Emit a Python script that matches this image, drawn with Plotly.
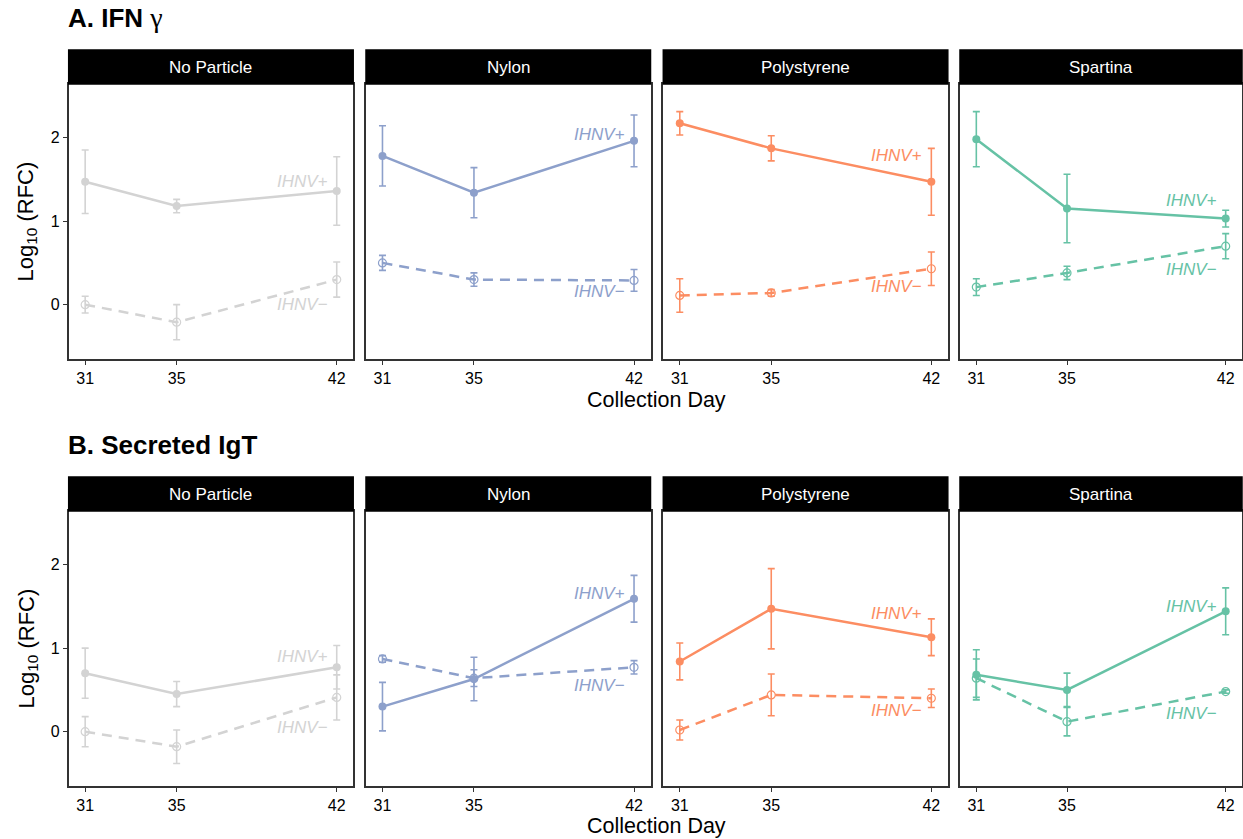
import plotly.graph_objects as go

# ---------------- data ----------------
days = [31, 35, 42]
particles = ["No Particle", "Nylon", "Polystyrene", "Spartina"]
colors = ["#d3d3d3", "#8da0cb", "#fc8d62", "#66c2a5"]

# IFN gamma
ifn_pos_mean = [[1.47, 1.18, 1.36], [1.78, 1.34, 1.96], [2.17, 1.87, 1.47], [1.98, 1.15, 1.03]]
ifn_pos_err = [[0.38, 0.08, 0.41], [0.36, 0.30, 0.31], [0.14, 0.15, 0.40], [0.33, 0.41, 0.10]]
ifn_neg_mean = [[0.00, -0.21, 0.30], [0.50, 0.30, 0.29], [0.11, 0.14, 0.43], [0.21, 0.38, 0.70]]
ifn_neg_err = [[0.10, 0.21, 0.21], [0.09, 0.08, 0.13], [0.20, 0.04, 0.20], [0.10, 0.08, 0.15]]

# Secreted IgT
igt_pos_mean = [[0.70, 0.45, 0.77], [0.30, 0.63, 1.59], [0.84, 1.47, 1.13], [0.68, 0.50, 1.44]]
igt_pos_err = [[0.30, 0.15, 0.26], [0.29, 0.26, 0.28], [0.22, 0.48, 0.22], [0.30, 0.20, 0.28]]
igt_neg_mean = [[0.00, -0.18, 0.41], [0.87, 0.64, 0.77], [0.02, 0.44, 0.40], [0.64, 0.12, 0.48]]
igt_neg_err = [[0.18, 0.20, 0.27], [0.04, 0.10, 0.08], [0.12, 0.25, 0.11], [0.23, 0.17, 0.02]]

# label positions (y values) for the in-panel series labels
ifn_pos_label_y = [1.47, 2.04, 1.79, 1.25]
ifn_neg_label_y = [0.00, 0.16, 0.22, 0.42]
igt_pos_label_y = [0.90, 1.65, 1.41, 1.50]
igt_neg_label_y = [0.05, 0.55, 0.25, 0.22]
label_x = 41.7

y_ticks = [0, 1, 2]

# ---------------- layout geometry ----------------
W, H = 1243, 839
panel_left = [68.7, 366.0, 663.3, 960.0]
panel_w = 284.5
rows = [dict(top=84, bottom=359, strip_top=50, title_y=18, xlab_y=400),
        dict(top=511, bottom=786, strip_top=477, title_y=445, xlab_y=826)]

def px(xp):
    return xp / W

def py(yp):
    return 1 - yp / H

FONT = "Liberation Sans, Arial, sans-serif"
AXC = "#333333"

fig = go.Figure()
layout = dict(width=W, height=H, margin=dict(l=0, r=0, t=0, b=0),
              paper_bgcolor="white", plot_bgcolor="white", showlegend=False,
              font=dict(family=FONT, color="black"))
shapes, annotations = [], []

data = [
    (ifn_pos_mean, ifn_pos_err, ifn_neg_mean, ifn_neg_err, ifn_pos_label_y, ifn_neg_label_y),
    (igt_pos_mean, igt_pos_err, igt_neg_mean, igt_neg_err, igt_pos_label_y, igt_neg_label_y),
]

k = 0
for r, row in enumerate(rows):
    pm, pe, nm, ne, ply, nly = data[r]
    for c in range(4):
        k += 1
        xa = "x" if k == 1 else f"x{k}"
        ya = "y" if k == 1 else f"y{k}"
        xkey = "xaxis" if k == 1 else f"xaxis{k}"
        ykey = "yaxis" if k == 1 else f"yaxis{k}"
        x0 = px(panel_left[c])
        x1 = min(px(panel_left[c] + panel_w), 0.9992)
        layout[xkey] = dict(domain=[x0, x1], anchor=ya, range=[30.28, 42.72],
                            tickmode="array", tickvals=days, ticktext=[str(d) for d in days],
                            ticks="outside", ticklen=4, tickwidth=1, tickcolor=AXC,
                            showline=True, linecolor=AXC, linewidth=1.5, mirror=True,
                            showgrid=False, zeroline=False,
                            tickfont=dict(size=16, color="black", family=FONT))
        layout[ykey] = dict(domain=[py(row["bottom"]), py(row["top"])], anchor=xa,
                            range=[-0.65, 2.64], tickmode="array", tickvals=y_ticks,
                            ticktext=[str(t) for t in y_ticks],
                            ticks="outside" if c == 0 else "", ticklen=4, tickwidth=1,
                            tickcolor=AXC, showticklabels=(c == 0),
                            showline=True, linecolor=AXC, linewidth=1.5, mirror=True,
                            showgrid=False, zeroline=False,
                            tickfont=dict(size=16, color="black", family=FONT))
        col = colors[c]
        # IHNV- (dashed, open)
        fig.add_trace(go.Scatter(
            x=days, y=nm[c], xaxis=xa, yaxis=ya, mode="lines+markers",
            line=dict(color=col, width=2.5, dash="10px,7px"),
            marker=dict(symbol="circle-open", size=8, color=col, line=dict(width=1.2, color=col)),
            error_y=dict(type="data", array=ne[c], visible=True, color=col, thickness=1.6, width=3.5),
            hoverinfo="skip"))
        # IHNV+ (solid, filled)
        fig.add_trace(go.Scatter(
            x=days, y=pm[c], xaxis=xa, yaxis=ya, mode="lines+markers",
            line=dict(color=col, width=2.5),
            marker=dict(symbol="circle", size=8, color=col),
            error_y=dict(type="data", array=pe[c], visible=True, color=col, thickness=1.6, width=3.5),
            hoverinfo="skip"))
        # series labels
        annotations.append(dict(x=label_x, y=ply[c], xref=xa, yref=ya, text="<i>IHNV+</i>",
                                showarrow=False, xanchor="right", yanchor="middle",
                                font=dict(size=17, color=col, family=FONT)))
        annotations.append(dict(x=label_x, y=nly[c], xref=xa, yref=ya, text="<i>IHNV\u2212</i>",
                                showarrow=False, xanchor="right", yanchor="middle",
                                font=dict(size=17, color=col, family=FONT)))
        # strip
        sx0 = x0
        sx1 = x1
        shapes.append(dict(type="rect", xref="paper", yref="paper", x0=sx0, x1=sx1,
                           y0=py(row["top"]), y1=py(row["strip_top"]),
                           fillcolor="black", line=dict(color="black", width=1.5), layer="above"))
        annotations.append(dict(x=(sx0 + sx1) / 2, y=py((row["top"] + row["strip_top"]) / 2),
                                xref="paper", yref="paper", text=particles[c], showarrow=False,
                                xanchor="center", yanchor="middle",
                                font=dict(size=17, color="white", family=FONT)))
    # row title
    if r == 0:
        ttl = "<b>A. IFN</b> <span style='font-family:Liberation Serif, serif; font-size:28px'>\u03b3</span>"
    else:
        ttl = "<b>B. Secreted IgT</b>"
    annotations.append(dict(x=px(66), y=py(row["title_y"]), xref="paper", yref="paper",
                            text=ttl, showarrow=False, xanchor="left", yanchor="middle",
                            font=dict(size=26, color="black", family=FONT)))
    # y label
    annotations.append(dict(x=px(27), y=py((row["top"] + row["bottom"]) / 2), xref="paper", yref="paper",
                            text="Log<sub>10</sub> (RFC)", textangle=-90, showarrow=False,
                            xanchor="center", yanchor="middle",
                            font=dict(size=22, color="black", family=FONT)))
    # x label
    annotations.append(dict(x=px(656), y=py(row["xlab_y"]), xref="paper", yref="paper",
                            text="Collection Day", showarrow=False,
                            xanchor="center", yanchor="middle",
                            font=dict(size=21.5, color="black", family=FONT)))

layout["shapes"] = shapes
layout["annotations"] = annotations
fig.update_layout(**layout)
fig.write_html("out.html", config={"displayModeBar": False})

# remove the default page margin so the figure sits at the top-left corner
with open("out.html", "r", encoding="utf-8") as f:
    html = f.read()
html = html.replace("<head>", "<head><style>html,body{margin:0;padding:0;overflow:hidden;}</style>", 1)
with open("out.html", "w", encoding="utf-8") as f:
    f.write(html)
